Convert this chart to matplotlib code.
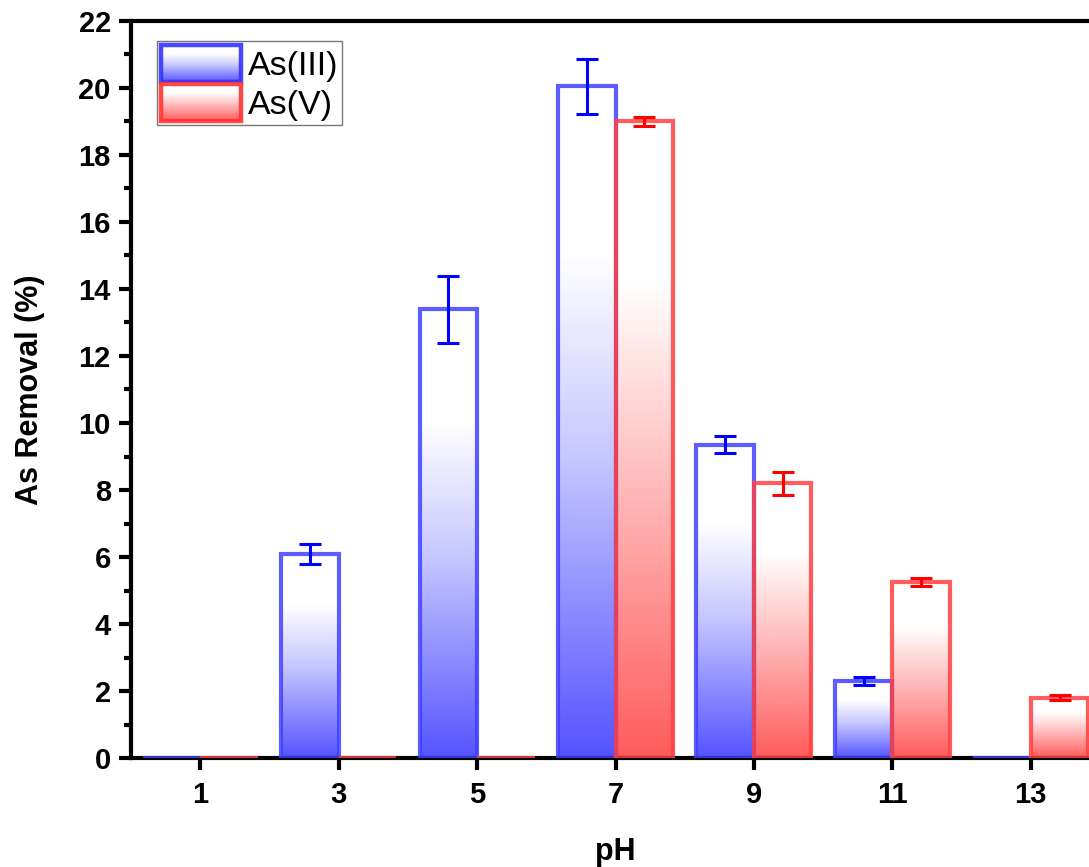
import numpy as np
import matplotlib
matplotlib.use("Agg")
import matplotlib.pyplot as plt
from matplotlib.colors import LinearSegmentedColormap
from matplotlib.patches import Rectangle
from matplotlib.legend_handler import HandlerBase
from matplotlib.image import BboxImage
from matplotlib.transforms import Bbox, TransformedBbox
from matplotlib.ticker import MultipleLocator

plt.rcParams['font.family'] = ['Liberation Sans', 'DejaVu Sans']

# data
ph = [1, 3, 5, 7, 9, 11, 13]
as3 = [0, 6.1, 13.4, 20.05, 9.35, 2.3, 0]
as3_err = [0, 0.3, 1.0, 0.83, 0.25, 0.12, 0]
as5 = [0, 0, 0, 19.0, 8.2, 5.25, 1.8]
as5_err = [0, 0, 0, 0.12, 0.35, 0.12, 0.07]

bar_w = 0.83

blue_cmap = LinearSegmentedColormap.from_list(
    "bl", [(0, (0.33, 0.33, 1.0)), (0.45, (0.78, 0.78, 1.0)), (0.75, (1, 1, 1)), (1, (1, 1, 1))])
red_cmap = LinearSegmentedColormap.from_list(
    "rd", [(0, (1.0, 0.36, 0.36)), (0.45, (1.0, 0.75, 0.75)), (0.75, (1, 1, 1)), (1, (1, 1, 1))])
grad = np.linspace(0, 1, 256).reshape(-1, 1)

blue_edge = (0.25, 0.25, 1.0, 0.85)
red_edge = (1.0, 0.25, 0.25, 0.85)

fig = plt.figure(figsize=(10.89, 8.67), dpi=100)
ax = fig.add_axes([0.1203, 0.1257, 0.8898, 0.8501])


def gradient_bars(xs, hs, errs, offset, cmap, edge, ecolor):
    bars = ax.bar([x + offset for x in xs], hs, width=bar_w, align='edge',
                  facecolor='none', edgecolor=edge, linewidth=3, zorder=3)
    for p in bars:
        x0, w, h = p.get_x(), p.get_width(), p.get_height()
        if h <= 0:
            continue
        im = ax.imshow(grad, extent=[x0, x0 + w, 0, h], origin='lower',
                       aspect='auto', cmap=cmap, zorder=2, interpolation='bilinear')
        im.set_clip_path(p)
    centers = [x + offset + bar_w / 2 for x in xs]
    for c, h, e in zip(centers, hs, errs):
        if e > 0:
            ax.errorbar(c, h, yerr=e, color=ecolor, lw=2.2, capsize=8,
                        capthick=2.2, zorder=4)


gradient_bars(ph, as3, as3_err, -bar_w, blue_cmap, blue_edge, '#0000ff')
gradient_bars(ph, as5, as5_err, 0, red_cmap, red_edge, '#ff0000')

ax.set_xlim(0, 14)
ax.set_ylim(0, 22)
ax.set_xticks(ph)
ax.yaxis.set_major_locator(MultipleLocator(2))
ax.yaxis.set_minor_locator(MultipleLocator(1))
for s in ax.spines.values():
    s.set_linewidth(3)
ax.tick_params(axis='both', which='major', direction='out', length=8.5, width=3,
               labelsize=21)
ax.tick_params(axis='x', which='major', pad=8)
ax.tick_params(axis='y', which='major', pad=6)
ax.tick_params(axis='y', which='minor', direction='out', length=5, width=3)
for lab in ax.get_xticklabels() + ax.get_yticklabels():
    lab.set_fontweight('bold')
ax.set_xlabel("pH", fontsize=22, fontweight='bold', labelpad=20)
ax.set_ylabel("As Removal (%)", fontsize=22, fontweight='bold', labelpad=24)


class GradHandler(HandlerBase):
    def __init__(self, cmap, edge):
        super().__init__()
        self.cmap = cmap
        self.edge = edge

    def create_artists(self, legend, orig, xd, yd, w, h, fs, trans):
        tbb = TransformedBbox(Bbox.from_bounds(-xd, -yd, w, h), trans)
        img = BboxImage(tbb, cmap=self.cmap, interpolation='bilinear', origin='lower')
        img.set_data(grad)
        rect = Rectangle((-xd, -yd), w, h, facecolor='none', edgecolor=self.edge,
                         linewidth=3.2, transform=trans)
        return [img, rect]


h3 = Rectangle((0, 0), 1, 1)
h5 = Rectangle((0, 0), 1, 1)
leg = ax.legend([h3, h5], ["As(III)", "As(V)"],
                handler_map={h3: GradHandler(blue_cmap, (0.2, 0.2, 1.0, 0.9)),
                             h5: GradHandler(red_cmap, (1.0, 0.2, 0.2, 0.9))},
                loc='upper left', bbox_to_anchor=(0.0268, 0.973), fontsize=24.5,
                handlelength=2.35, handleheight=1.3, labelspacing=0.05,
                handletextpad=0.2, borderpad=0.12, borderaxespad=0,
                fancybox=False, frameon=True)
leg.get_frame().set_edgecolor('#555555')
leg.get_frame().set_linewidth(1)

fig.savefig("out.png", dpi=100)
